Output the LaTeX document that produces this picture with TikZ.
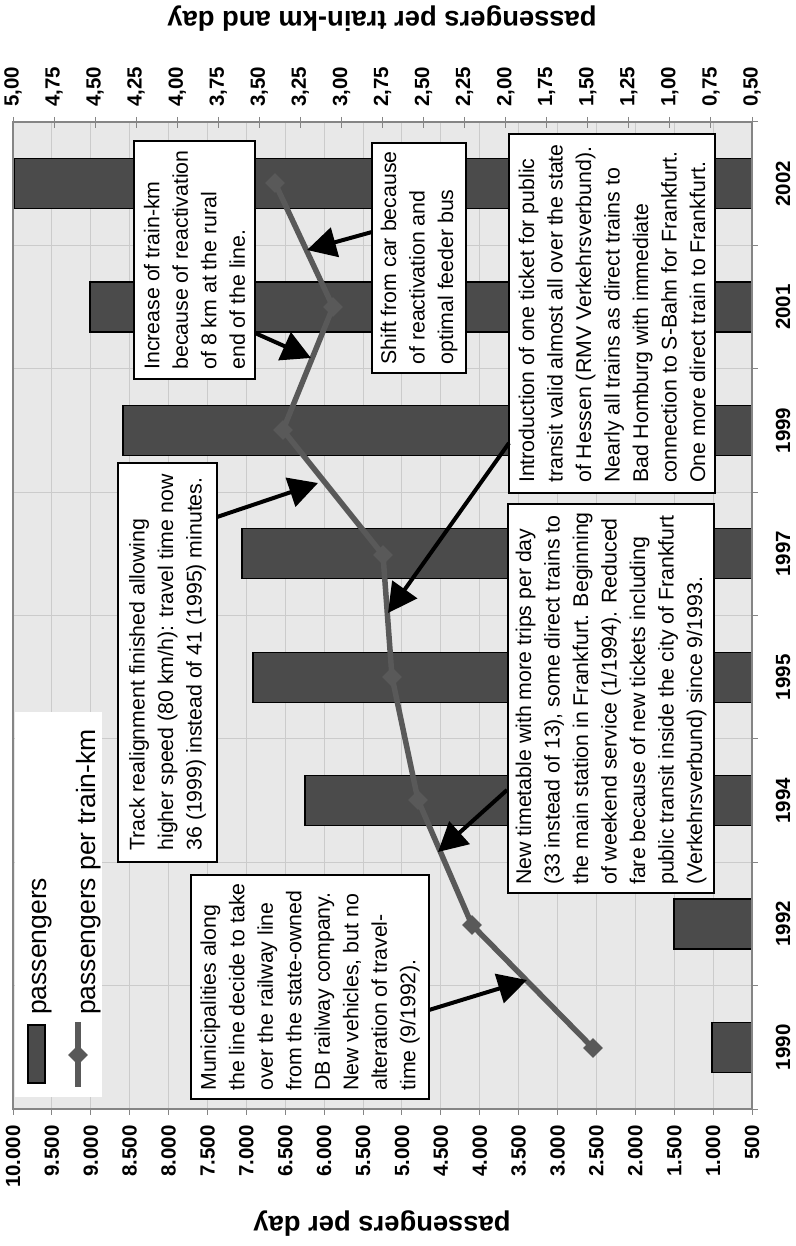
\documentclass[tikz,border=0pt]{standalone}
\usepackage{fontspec}
\setmainfont{Liberation Sans}
\usetikzlibrary{arrows.meta,shapes.geometric}
\definecolor{plotbg}{HTML}{E8E8E8}
\definecolor{gridc}{HTML}{CBCBCB}
\definecolor{barc}{HTML}{4B4B4B}
\definecolor{linec}{HTML}{595959}
\definecolor{framec}{HTML}{858585}
\begin{document}
\begin{tikzpicture}[x=1pt,y=-1pt,
 annot/.style={draw=black,line width=1.3pt,fill=white,rotate=90,inner sep=0pt,align=left,font=\fontsize{21.3}{28.5}\selectfont},
 callout/.style={line width=4pt,-{Triangle[length=29pt,width=30pt]}},
 barrect/.style={draw=black,line width=1.3pt,fill=barc},
 ticklab/.style={rotate=90,inner sep=0pt,font=\bfseries\fontsize{20.5}{24}\selectfont},
 axtitle/.style={rotate=180,inner sep=0pt,font=\bfseries\fontsize{27.4}{32}\selectfont},
 legtext/.style={rotate=90,inner sep=0pt,anchor=base west,font=\fontsize{26.5}{30}\selectfont},
 gridline/.style={draw=gridc,line width=1pt},
 tickline/.style={draw=framec,line width=1pt},
 ptmark/.style={diamond,fill=linec,inner sep=0pt,minimum width=20pt,minimum height=20pt},
 dataline/.style={draw=linec,line width=5.5pt,line join=round}]
\useasboundingbox (0,0) rectangle (795,1246);
\fill[white] (0,0) rectangle (795,1246);
% plot area
\fill[plotbg] (13,122) rectangle (752,1109);
\foreach \k in {1,...,18} \draw[gridline] ({13+\k*38.895},122) -- ++(0,987);
\foreach \k in {1,...,7} \draw[gridline] (13,{122+\k*123.375}) -- (752,{122+\k*123.375});
% ticks
\foreach \k in {0,...,18} \draw[tickline] ({13+\k*41.056},117) -- ++(0,11);
\foreach \k in {0,...,19} \draw[tickline] ({13+\k*38.895},1109) -- ++(0,6);
\foreach \k in {0,...,8} \draw[tickline] (752,{122+\k*123.375}) -- ++(6,0);
% bars
\foreach \cy/\lx in {183.7/14,307.1/90,430.4/123,553.8/242,677.2/253,800.6/305,923.9/674,1047.3/712}
  \draw[barrect] (\lx,{\cy-25}) rectangle (752,{\cy+25});
\draw[framec,line width=1.5pt] (13,122) rectangle (752,1109);
% data line
\coordinate (p90) at (593,1048);
\coordinate (p92) at (472,925);
\coordinate (p94) at (418,800);
\coordinate (p95) at (392,677);
\coordinate (p97) at (383,555);
\coordinate (p99) at (283,430);
\coordinate (p01) at (333,307);
\coordinate (p02) at (275,183);
\draw[dataline] (p90) -- (p92) -- (p94) -- (p95) -- (p97) -- (p99) -- (p01) -- (p02);
\foreach \p in {p90,p92,p94,p95,p97,p99,p01,p02} \node[ptmark] (m\p) at (\p) {};
% tick labels
\foreach \lab [count=\k from 0] in {10.000,9.500,9.000,8.500,8.000,7.500,7.000,6.500,6.000,5.500,5.000,4.500,4.000,3.500,3.000,2.500,2.000,1.500,1.000,500}
  \node[ticklab,anchor=east] (tb\k) at ({13+\k*38.895},1125) {\lab};
\foreach \lab [count=\k from 0] in {{5,00},{4,75},{4,50},{4,25},{4,00},{3,75},{3,50},{3,25},{3,00},{2,75},{2,50},{2,25},{2,00},{1,75},{1,50},{1,25},{1,00},{0,75},{0,50}}
  \node[ticklab,anchor=west] (tt\k) at ({13+\k*41.056},107) {\lab};
\foreach \cy/\yr in {183.7/2002,307.1/2001,430.4/1999,553.8/1997,677.2/1995,800.6/1994,923.9/1992,1047.3/1990}
  \node[ticklab] (y\yr) at (783,\cy) {\yr};
% axis titles
\node[axtitle] (tbot) at (382,1224) {passengers per day};
\node[axtitle] (ttop) at (382,19) {passengers per train-km and day};
% legend
\fill[white] (15,712) rectangle (102,1097);
\draw[barrect] (28,1025) rectangle (45,1083);
\draw[dataline,line width=6pt] (78,1022) -- (78,1087);
\node[ptmark] (legm) at (78,1055) {};
\node[legtext] (leg1) at (46.5,1015) {passengers};
\node[legtext] (leg2) at (95,1015) {passengers per train-km};
% annotations
\node[annot,minimum width=224pt,minimum height=238pt] (mun) at (310,987) {Municipalities along\\the line decide to take\\over the railway line\\from the state-owned\\DB railway company.\\New vehicles, but no\\alteration of travel-\\time (9/1992).};
\node[annot,minimum width=399pt,minimum height=99pt] (track) at (167.5,662.5) {Track realignment finished allowing\\higher speed (80 km/h): travel time now\\36 (1999) instead of 41 (1995) minutes.};
\node[annot,minimum width=238pt,minimum height=121pt] (incr) at (194.5,260) {Increase of train-km\\because of reactivation\\of 8 km at the rural\\end of the line.};
\node[annot,minimum width=230pt,minimum height=94pt] (shift) at (419,258) {Shift from car because\\of reactivation and\\optimal feeder bus};
\node[annot,minimum width=359pt,minimum height=206pt] (intro) at (612,313.5) {Introduction of one ticket for public\\transit valid almost all over the state\\of Hessen (RMV Verkehrsverbund).\\Nearly all trains as direct trains to\\Bad Homburg with immediate\\connection to S-Bahn for Frankfurt.\\One more direct train to Frankfurt.};
\node[annot,minimum width=389pt,minimum height=206pt] (newtt) at (611,698.5) {New timetable with more trips per day\\(33 instead of 13), some direct trains to\\the main station in Frankfurt. Beginning\\of weekend service (1/1994). Reduced\\fare because of new tickets including\\public transit inside the city of Frankfurt\\(Verkehrsverbund) since 9/1993.};
% callout arrows
\coordinate (a1s) at (429,1010); \coordinate (a1e) at (527,980);
\coordinate (a2s) at (217,517);  \coordinate (a2e) at (318,483);
\coordinate (a3s) at (255,333);  \coordinate (a3e) at (311,358);
\coordinate (a4s) at (372,232);  \coordinate (a4e) at (307,250);
\coordinate (a5s) at (509,443);  \coordinate (a5e) at (388,613);
\coordinate (a6s) at (507,790);  \coordinate (a6e) at (438,852);
\draw[callout] (a1s) -- (a1e);
\draw[callout] (a2s) -- (a2e);
\draw[callout] (a3s) -- (a3e);
\draw[callout] (a4s) -- (a4e);
\draw[callout] (a5s) -- (a5e);
\draw[callout] (a6s) -- (a6e);
\end{tikzpicture}
\end{document}
